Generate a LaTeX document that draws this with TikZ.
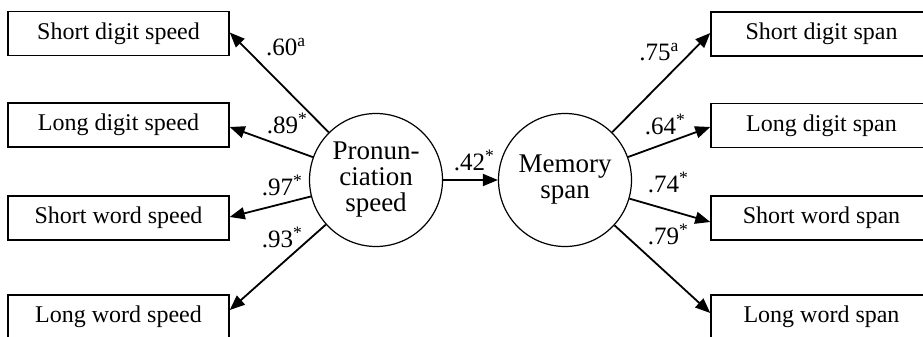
\documentclass[tikz,border=0pt]{standalone}
\usepackage{fontspec}
\setmainfont{Liberation Serif}
\usetikzlibrary{arrows.meta}
\begin{document}
\begin{tikzpicture}[x=1pt,y=-1pt,
  obs/.style={draw,line width=1.5pt,minimum width=221pt,minimum height=44pt,
    inner sep=0pt,font=\fontsize{24}{26}\selectfont},
  latent/.style={draw,circle,line width=1.2pt,minimum size=133pt,inner sep=0pt,
    align=center,font=\fontsize{27}{26}\selectfont},
  path/.style={line width=1.8pt,-{Triangle[length=15pt,width=12pt]}},
  coef/.style={font=\fontsize{25}{26}\selectfont,inner sep=0pt}]
\useasboundingbox (0,0) rectangle (923,337);
\clip (0,0) rectangle (923,337);

% latent factors
\node[latent] (pron) at (376,180) {Pronun-\\ciation\\speed};
\node[latent] (mem)  at (565,180) {Memory\\span};

% speed measures
\node[obs] (sds) at (118.5,33.5) {Short digit speed};
\node[obs] (lds) at (118.5,125)  {Long digit speed};
\node[obs] (sws) at (118.5,218)  {Short word speed};
\node[obs] (lws) at (118.5,317)  {Long word speed};

% span measures
\node[obs] (sdp) at (821.5,34)    {Short digit span};
\node[obs] (ldp) at (821.5,125.5) {Long digit span};
\node[obs] (swp) at (821.5,218)   {Short word span};
\node[obs] (lwp) at (821.5,317)   {Long word span};

% arrow end points on the boxes
\coordinate (tsds) at ([yshift=1pt]sds.east);
\coordinate (tlds) at ([yshift=-2pt]lds.east);
\coordinate (tsws) at ([yshift=1pt]sws.east);
\coordinate (tlws) at ([yshift=7pt]lws.east);
\coordinate (tsdp) at ([yshift=1pt]sdp.west);
\coordinate (tldp) at ([yshift=-1.5pt]ldp.west);
\coordinate (tswp) at ([yshift=-4pt]swp.west);
\coordinate (tlwp) at ([yshift=4pt]lwp.west);

% loadings
\draw[path] (pron) -- (tsds);
\draw[path] (pron) -- (tlds);
\draw[path] (pron) -- (tsws);
\draw[path] (pron) -- (tlws);
\draw[path] (mem) -- (tsdp);
\draw[path] (mem) -- (tldp);
\draw[path] (mem) -- (tswp);
\draw[path] (mem) -- (tlwp);
\draw[path] (pron) -- (mem);

% coefficients
\node[coef] (c60) at (286,47)  {.60\textsuperscript{a}};
\node[coef] (c89) at (287,123) {.89\textsuperscript{*}};
\node[coef] (c97) at (282,185) {.97\textsuperscript{*}};
\node[coef] (c93) at (282,237) {.93\textsuperscript{*}};
\node[coef] (c42) at (474,160) {.42\textsuperscript{*}};
\node[coef] (c75) at (659,52)  {.75\textsuperscript{a}};
\node[coef] (c64) at (665,124) {.64\textsuperscript{*}};
\node[coef] (c74) at (668,182) {.74\textsuperscript{*}};
\node[coef] (c79) at (668,234) {.79\textsuperscript{*}};
\end{tikzpicture}
\end{document}
